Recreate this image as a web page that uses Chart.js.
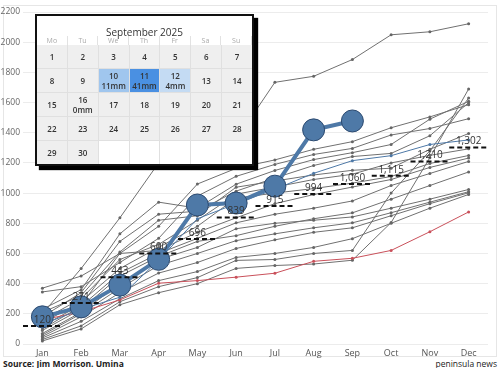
<!DOCTYPE html>
<html>
<head>
<meta charset="utf-8">
<script src="https://cdn.jsdelivr.net/npm/chart.js@4.4.0/dist/chart.umd.min.js"></script>
<style>
  body { margin: 0; width: 500px; height: 368px; background: #fff; font-family: "Open Sans", sans-serif; overflow: hidden; position: relative; }
  #frame { position: absolute; left: 3px; top: 5px; width: 492px; height: 350px; border: 1px solid #e6e6e6; }
  #chart { position: absolute; left: 0; top: 0; }
  #cal { position: absolute; left: 35px; top: 14px; width: 219px; height: 152px; box-sizing: border-box;
         border: 2px solid #111; background: #fff; box-shadow: 4px 4px 1px #000; }
  #cal .title { position: absolute; left: 0; right: 0; top: 9px; text-align: center; font-size: 10px; color: #333; }
  #cal .head { position: absolute; left: 0; right: 0; top: 20px; height: 9px; display: grid; grid-template-columns: repeat(7, 1fr); }
  #cal .head span { font-size: 7px; color: #aaa; text-align: center; border-right: 1px solid #e2e2e2; line-height: 9px; }
  #cal .grid { position: absolute; left: 0; right: 0; top: 29px; bottom: 0; display: grid; grid-template-columns: repeat(7, 1fr);
               grid-template-rows: repeat(5, 1fr); gap: 1px; background: #e0e0e0; }
  #cal .cell { background: #efefef; display: flex; flex-direction: column; align-items: center; justify-content: center;
               font-size: 8px; font-weight: 600; color: #333; line-height: 10px; }
  #cal .cell.empty { background: #fff; }
  #src { position: absolute; left: 3px; top: 358px; font-size: 8.5px; font-weight: 700; color: #222; }
  #brand { position: absolute; right: 3px; top: 358px; font-size: 8.5px; color: #222; }
</style>
</head>
<body>
<div id="frame"></div>
<canvas id="chart" width="500" height="358"></canvas>
<div id="cal">
  <div class="title">September 2025</div>
  <div class="head"></div>
  <div class="grid"></div>
</div>
<div id="src">Source: Jim Morrison. Umina</div>
<div id="brand">peninsula news</div>
<script>
const months = ['Jan', 'Feb', 'Mar', 'Apr', 'May', 'Jun', 'Jul', 'Aug', 'Sep', 'Oct', 'Nov', 'Dec'];
const yTicks = [0, 200, 400, 600, 800, 1000, 1200, 1400, 1600, 1800, 2000, 2200];

// long-term average of cumulative rainfall (mm)
const average = [120, 271, 443, 600, 696, 839, 915, 994, 1060, 1115, 1210, 1302];

const rain2025 = [180, 246, 390, 561, 921, 934, 1046, 1419, 1478];
const rain2024 = [130, 230, 310, 555, 830, 930, 1025, 1131, 1215, 1248, 1322, 1352];
const rainDry = [160, 213, 292, 403, 420, 443, 469, 548, 568, 620, 744, 875];

const pastYears = [
  [200, 500, 836, 1200, 1280, 1354, 1734, 1774, 1885, 2049, 2069, 2122],
  [370, 450, 600, 780, 1060, 1164, 1220, 1290, 1341, 1433, 1505, 1586],
  [345, 380, 540, 700, 980, 1111, 1190, 1256, 1296, 1385, 1428, 1493],
  [230, 360, 730, 940, 900, 1059, 1150, 1222, 1268, 1322, 1490, 1608],
  [180, 340, 680, 860, 880, 1013, 1100, 1183, 1242, 1263, 1380, 1599],
  [210, 320, 610, 820, 850, 1039, 1080, 1120, 1151, 1165, 1290, 1395],
  [160, 300, 560, 660, 820, 993, 1040, 1090, 1125, 1200, 1250, 1293],
  [140, 280, 500, 640, 780, 967, 1000, 1030, 1066, 1110, 1196, 1249],
  [120, 260, 600, 620, 740, 836, 930, 990, 1040, 1090, 1170, 1232],
  [100, 250, 470, 600, 700, 803, 860, 900, 948, 1050, 1130, 1210],
  [90, 230, 450, 580, 680, 718, 780, 830, 869, 960, 1050, 1140],
  [70, 210, 400, 560, 640, 764, 800, 820, 842, 900, 960, 1024],
  [60, 200, 370, 520, 600, 685, 730, 770, 803, 870, 940, 1009],
  [50, 180, 340, 470, 540, 633, 690, 740, 770, 850, 930, 1002],
  [40, 150, 300, 420, 480, 574, 600, 640, 698, 800, 900, 991],
  [30, 120, 280, 380, 440, 554, 560, 600, 620, 1000, 1280, 1630],
  [20, 100, 260, 340, 400, 501, 520, 530, 555, 805, 1235, 1690]
];

// September 2025 calendar
const calDayNames = ['Mo', 'Tu', 'We', 'Th', 'Fr', 'Sa', 'Su'];
const calRainDays = [10, 11, 12, 16];
const calRainMm = ['11mm', '41mm', '4mm', '0mm'];
const calRainColors = ['#a0c6ee', '#4a90e2', '#c4dbf3', '#efefef'];

const head = document.querySelector('#cal .head');
calDayNames.forEach(d => { const s = document.createElement('span'); s.textContent = d; head.appendChild(s); });
const grid = document.querySelector('#cal .grid');
for (let i = 0; i < 35; i++) {
  const c = document.createElement('div');
  const day = i + 1;
  if (day > 30) { c.className = 'cell empty'; grid.appendChild(c); continue; }
  c.className = 'cell';
  const n = document.createElement('span'); n.textContent = day; c.appendChild(n);
  const k = calRainDays.indexOf(day);
  if (k >= 0) {
    const m = document.createElement('span'); m.textContent = calRainMm[k]; c.appendChild(m);
    c.style.background = calRainColors[k];
  }
  grid.appendChild(c);
}

const avgLines = {
  id: 'avgLines',
  afterDatasetsDraw(chart) {
    const { ctx, scales: { x, y } } = chart;
    const w = x.getPixelForValue(1) - x.getPixelForValue(0);
    ctx.save();
    average.forEach((v, i) => {
      const cx = x.getPixelForValue(i), cy = y.getPixelForValue(v);
      ctx.setLineDash([5, 3]);
      ctx.lineWidth = 2;
      ctx.strokeStyle = '#111';
      ctx.beginPath();
      ctx.moveTo(cx - w / 2, cy);
      ctx.lineTo(cx + w / 2, cy);
      ctx.stroke();
      ctx.setLineDash([]);
      ctx.fillStyle = '#333';
      ctx.font = '10px "Open Sans"';
      ctx.textAlign = 'center';
      ctx.textBaseline = 'bottom';
      ctx.fillText(v.toLocaleString('en-US'), cx, cy - 1);
    });
    ctx.restore();
  }
};

const datasets = pastYears.map(d => ({
  data: d,
  borderColor: '#707070',
  borderWidth: 1,
  pointRadius: 1.5,
  pointBackgroundColor: '#666',
  pointBorderWidth: 0,
  order: 3
}));
datasets.push({
  data: rainDry, borderColor: '#c9505a', borderWidth: 1,
  pointRadius: 1.5, pointBackgroundColor: '#c9505a', pointBorderWidth: 0, order: 2
});
datasets.push({
  data: rain2024, borderColor: '#4e79a7', borderWidth: 1,
  pointRadius: 1.5, pointBackgroundColor: '#4e79a7', pointBorderWidth: 0, order: 1
});
datasets.push({
  data: rain2025, borderColor: '#4e79a7', borderWidth: 4,
  pointRadius: 11, pointBackgroundColor: '#4e79a7', pointBorderColor: '#2c4a70', pointBorderWidth: 1, order: 0
});

new Chart(document.getElementById('chart'), {
  type: 'line',
  data: { labels: months, datasets: datasets },
  options: {
    responsive: false,
    animation: false,
    layout: { padding: { left: 0, right: 4, top: 5, bottom: 0 } },
    plugins: { legend: { display: false }, tooltip: { enabled: false } },
    scales: {
      x: {
        offset: true,
        grid: { display: false, drawTicks: false, tickLength: 0 },
        border: { display: false },
        ticks: { color: '#555', font: { size: 9, family: 'Open Sans' }, padding: 4 },
        afterFit: s => { s.height = 14; }
      },
      y: {
        min: 0, max: 2200,
        afterBuildTicks: s => { s.ticks = yTicks.map(v => ({ value: v })); },
        grid: { color: '#ececec', drawTicks: false, tickLength: 0 },
        border: { display: false },
        ticks: { color: '#666', font: { size: 8.5, family: 'Open Sans' }, padding: 3, callback: v => String(v) },
        afterFit: s => { s.width = 23; }
      }
    }
  },
  plugins: [avgLines]
});
</script>
</body>
</html>
